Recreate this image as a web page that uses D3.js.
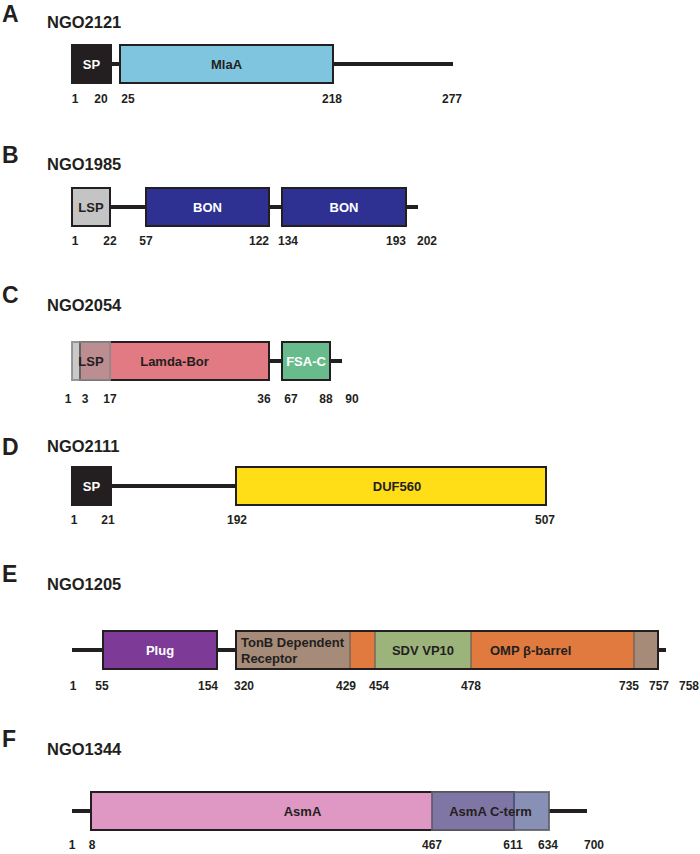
<!DOCTYPE html>
<html>
<head>
<meta charset="utf-8">
<script src="https://cdn.jsdelivr.net/npm/d3@7"></script>
<style>
  body { margin: 0; background: #fff; }
  svg { display: block; font-family: "Liberation Sans", Arial, sans-serif; font-weight: bold; }
</style>
</head>
<body>
<div id="figure"></div>
<script>
const width = 700;
const height = 854;
const boxHeight = 38;
const ink = '#231f20';

// proteins, one per panel
const panelLetters = ['A', 'B', 'C', 'D', 'E', 'F'];
const proteinNames = ['NGO2121', 'NGO1985', 'NGO2054', 'NGO2111', 'NGO1205', 'NGO1344'];
const proteinLengths = [277, 202, 90, 507, 758, 700];

// residue numbers written under each schematic
const ticksA = [1, 20, 25, 218, 277];
const ticksB = [1, 22, 57, 122, 134, 193, 202];
const ticksC = [1, 3, 17, 36, 67, 88, 90];
const ticksD = [1, 21, 192, 507];
const ticksE = [1, 55, 154, 320, 429, 454, 478, 735, 757, 758];
const ticksF = [1, 8, 467, 611, 634, 700];

// domains (type: box = framed domain, inner = sub-domain inside a box, overlay = see-through box)
const domainsA = [
    {name: 'SP', start: 1, end: 20, type: 'box'},
    {name: 'MlaA', start: 25, end: 218, type: 'box'},
];
const domainsB = [
    {name: 'LSP', start: 1, end: 22, type: 'box'},
    {name: 'BON', start: 57, end: 122, type: 'box'},
    {name: 'BON', start: 134, end: 193, type: 'box'},
];
const domainsC = [
    {name: 'Lamda-Bor', start: 3, end: 36, type: 'box'},
    {name: 'FSA-C', start: 67, end: 88, type: 'box'},
    {name: 'LSP', start: 1, end: 17, type: 'overlay'},
];
const domainsD = [
    {name: 'SP', start: 1, end: 21, type: 'box'},
    {name: 'DUF560', start: 192, end: 507, type: 'box'},
];
const domainsE = [
    {name: 'Plug', start: 55, end: 154, type: 'box'},
    {name: 'TonB Dependent\nReceptor', start: 320, end: 757, type: 'box'},
    {name: 'OMP β-barrel', start: 429, end: 735, type: 'inner'},
    {name: 'SDV VP10', start: 454, end: 478, type: 'inner'},
];
const domainsF = [
    {name: 'AsmA', start: 8, end: 611, type: 'box'},
    {name: 'AsmA C-term', start: 467, end: 634, type: 'overlay'},
];

const allTicks = [ticksA, ticksB, ticksC, ticksD, ticksE, ticksF];
const allDomains = [domainsA, domainsB, domainsC, domainsD, domainsE, domainsF];

// styles
const boxStyle = {
    'SP': {fill: '#231f20', text: '#fff'},
    'MlaA': {fill: '#80c5df', text: ink},
    'LSP': {fill: '#c4c4c4', text: ink},
    'BON': {fill: '#2e3192', text: '#fff'},
    'Lamda-Bor': {fill: '#e27a83', text: ink},
    'FSA-C': {fill: '#68bc8c', text: '#fff'},
    'DUF560': {fill: '#ffdd17', text: ink, dx: 6},
    'Plug': {fill: '#7d3a96', text: '#fff'},
    'TonB Dependent\nReceptor': {fill: '#a68b78', text: ink, anchor: 'start', dx: 5},
    'OMP β-barrel': {fill: '#e07a3e', text: ink, anchor: 'start', at: 478, dx: 19},
    'SDV VP10': {fill: '#9cb47c', text: ink},
    'AsmA': {fill: '#df97c4', text: ink},
};
const overlayStyle = {
    'LSP': {fill: '#9c9c9c', opacity: 0.55, stroke: '#8a8a8a', text: ink},
    'AsmA C-term': {fill: '#606b9c', opacity: 0.75, stroke: '#5e5e66', text: ink},
};

// schematic is not drawn to scale: residue ticks map to these x stops
const layout = [
    {letterY: 22, titleY: 28, boxY: 45, labelY: 103,
        stops: [72, 111, 120, 333, 453], tickDx: [3, -10, 8, -1, -1]},
    {letterY: 163, titleY: 170, boxY: 188, labelY: 245,
        stops: [72, 110, 146, 269, 282, 406, 418], tickDx: [3, 0, 0, -10, 6, -10, 9]},
    {letterY: 303, titleY: 311, boxY: 342, labelY: 403,
        stops: [72, 80, 110, 269, 282, 330, 342], tickDx: [-4, 5, 0, -5, 9, -4, 10]},
    {letterY: 455, titleY: 452, boxY: 467, labelY: 524,
        stops: [72, 111, 236, 546], tickDx: [2, -3, 1, -1]},
    {letterY: 582, titleY: 590, boxY: 631, labelY: 690,
        stops: [72, 103, 217, 236, 350, 375, 471, 634, 658, 666], tickDx: [1, -1, -9, 8, -4, 4, 0, -5, 1, 23]},
    {letterY: 747, titleY: 755, boxY: 792, labelY: 849,
        stops: [72, 91, 432, 514, 549, 587], tickDx: [0, 1, 0, -1, -1, 7]},
];

const svg = d3.select('#figure').append('svg')
    .attr('width', width)
    .attr('height', height)
    .attr('viewBox', [0, 0, width, height]);

panelLetters.forEach((letter, i) => {
    const lay = layout[i];
    const ticks = allTicks[i];
    const domains = allDomains[i];
    const x = d3.scaleLinear().domain(ticks).range(lay.stops);
    const midY = lay.boxY + boxHeight / 2;
    const g = svg.append('g');

    g.append('text')
        .attr('x', 2)
        .attr('y', lay.letterY)
        .attr('font-size', 23)
        .attr('fill', ink)
        .text(letter);

    g.append('text')
        .attr('x', 47)
        .attr('y', lay.titleY)
        .attr('font-size', 16.5)
        .attr('fill', ink)
        .text(proteinNames[i]);

    // backbone
    g.append('line')
        .attr('x1', x(1))
        .attr('x2', x(proteinLengths[i]))
        .attr('y1', midY)
        .attr('y2', midY)
        .attr('stroke', ink)
        .attr('stroke-width', 4);

    const boxes = domains.filter(d => d.type === 'box');
    const inner = domains.filter(d => d.type === 'inner');
    const overlays = domains.filter(d => d.type === 'overlay');

    // white ground so the backbone does not show through see-through boxes
    g.selectAll('rect.ground')
        .data(overlays)
        .join('rect')
        .attr('class', 'ground')
        .attr('x', d => x(d.start))
        .attr('y', lay.boxY)
        .attr('width', d => x(d.end) - x(d.start))
        .attr('height', boxHeight)
        .attr('fill', '#fff');

    g.selectAll('rect.box')
        .data(boxes)
        .join('rect')
        .attr('class', 'box')
        .attr('x', d => x(d.start))
        .attr('y', lay.boxY)
        .attr('width', d => x(d.end) - x(d.start))
        .attr('height', boxHeight)
        .attr('fill', d => boxStyle[d.name].fill);

    g.selectAll('rect.inner')
        .data(inner)
        .join('rect')
        .attr('class', 'inner')
        .attr('x', d => x(d.start))
        .attr('y', lay.boxY)
        .attr('width', d => x(d.end) - x(d.start))
        .attr('height', boxHeight)
        .attr('fill', d => boxStyle[d.name].fill)
        .attr('stroke', '#6f6259')
        .attr('stroke-width', 1.3);

    // frames on top of the sub-domains
    g.selectAll('rect.frame')
        .data(boxes)
        .join('rect')
        .attr('class', 'frame')
        .attr('x', d => x(d.start))
        .attr('y', lay.boxY)
        .attr('width', d => x(d.end) - x(d.start))
        .attr('height', boxHeight)
        .attr('fill', 'none')
        .attr('stroke', ink)
        .attr('stroke-width', 2);

    g.selectAll('rect.overlay')
        .data(overlays)
        .join('rect')
        .attr('class', 'overlay')
        .attr('x', d => x(d.start))
        .attr('y', lay.boxY)
        .attr('width', d => x(d.end) - x(d.start))
        .attr('height', boxHeight)
        .attr('fill', d => overlayStyle[d.name].fill)
        .attr('fill-opacity', d => overlayStyle[d.name].opacity)
        .attr('stroke', d => overlayStyle[d.name].stroke)
        .attr('stroke-opacity', 0.85)
        .attr('stroke-width', 2);

    // domain names
    domains.forEach(d => {
        const st = d.type === 'overlay' ? overlayStyle[d.name] : boxStyle[d.name];
        const anchor = st.anchor || 'middle';
        const base = anchor === 'start' ? x(st.at || d.start) : (x(d.start) + x(d.end)) / 2;
        const lines = d.name.split('\n');
        const t = g.append('text')
            .attr('text-anchor', anchor)
            .attr('font-size', 13)
            .attr('fill', st.text);
        lines.forEach((line, k) => {
            t.append('tspan')
                .attr('x', base + (st.dx || 0))
                .attr('y', lines.length > 1 ? lay.boxY + 16 + k * 16 : midY + 4.5)
                .text(line);
        });
    });

    // residue numbers
    g.selectAll('text.tick')
        .data(ticks)
        .join('text')
        .attr('class', 'tick')
        .attr('x', (d, k) => x(d) + lay.tickDx[k])
        .attr('y', lay.labelY)
        .attr('text-anchor', 'middle')
        .attr('font-size', 12)
        .attr('fill', ink)
        .text(d => d);
});
</script>
</body>
</html>
